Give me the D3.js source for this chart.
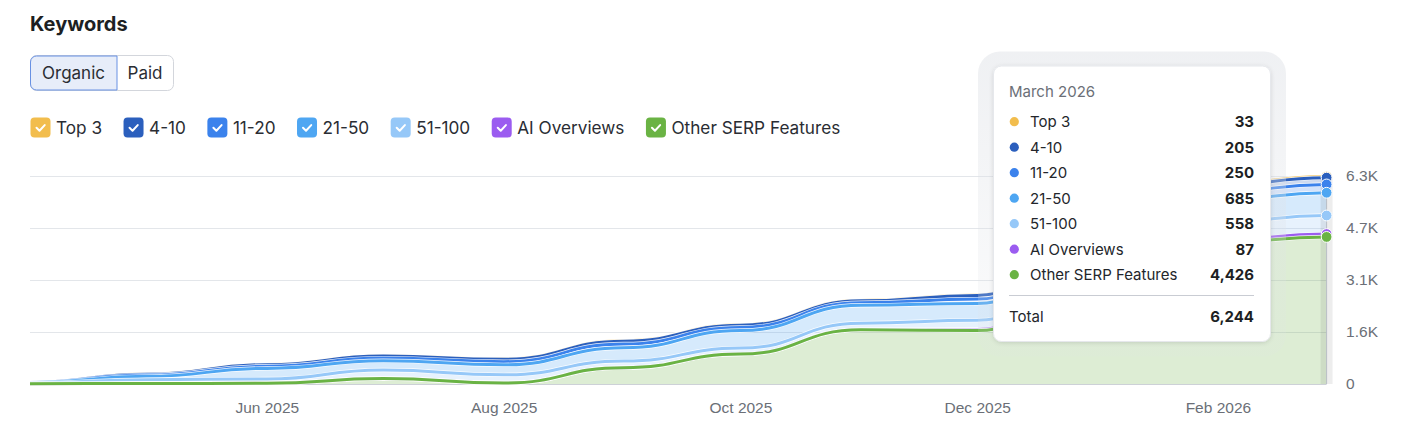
<!DOCTYPE html>
<html>
<head>
<meta charset="utf-8">
<script src="https://cdn.jsdelivr.net/npm/d3@7"></script>
<style>
  body { margin: 0; background: #fff; }
  svg { display: block; font-family: Inter, "Noto Sans", sans-serif; }
</style>
</head>
<body>
<svg id="kw-chart" width="1412" height="442"></svg>
<script>
// monthly points (Jan 2026 sits under the tooltip, estimated)
var dates = ["2025-04-01", "2025-05-01", "2025-06-01", "2025-07-01", "2025-08-01", "2025-09-01",
  "2025-10-01", "2025-11-01", "2025-12-01", "2026-01-01", "2026-02-01", "2026-03-01"];

var seriesNames = ["Top 3", "4-10", "11-20", "21-50", "51-100", "AI Overviews", "Other SERP Features"];
var seriesColors = ["#f2bd4d", "#2b5fbd", "#3b82ec", "#4ea6f2", "#96c8f8", "#9b5cf0", "#6ab344"];

var top3        = [0, 4, 6, 7, 9, 11, 9, 10, 15, 20, 30, 33];
var pos4to10    = [2, 28, 47, 58, 70, 84, 68, 55, 110, 150, 200, 205];
var pos11to20   = [3, 38, 64, 80, 95, 115, 93, 78, 130, 180, 240, 250];
var pos21to50   = [10, 100, 320, 280, 300, 400, 530, 540, 505, 600, 670, 685];
var pos51to100  = [20, 115, 128, 256, 247, 200, 180, 194, 280, 380, 540, 558];
var aiOverviews = [0, 0, 0, 0, 0, 0, 0, 5, 30, 55, 80, 87];
var otherSerp   = [10, 15, 22, 165, 30, 490, 900, 1631, 1610, 2900, 4254, 4426];

var xTickDates = ["2025-06-01", "2025-08-01", "2025-10-01", "2025-12-01", "2026-02-01"];
var yTickValues = [0, 1565, 3130, 4695, 6260];
var yTickLabels = ["0", "1.6K", "3.1K", "4.7K", "6.3K"];

var tooltipTitle = "March 2026";

(function() {
  var parse = d3.timeParse("%Y-%m-%d");
  var seriesValues = [top3, pos4to10, pos11to20, pos21to50, pos51to100, aiOverviews, otherSerp];

  var rows = dates.map(function(d, i) {
    var r = { date: parse(d) };
    seriesNames.forEach(function(n, k) { r[n] = seriesValues[k][i]; });
    return r;
  });

  var svg = d3.select("#kw-chart"),
      plotLeft = 30, plotRight = 1326.6, plotTop = 176, plotBottom = 384;

  var x = d3.scaleTime()
      .domain([parse(dates[0]), parse(dates[dates.length - 1])])
      .range([plotLeft, plotRight]);
  var y = d3.scaleLinear().domain([0, 6260]).range([plotBottom, plotTop]);
  var color = d3.scaleOrdinal().domain(seriesNames).range(seriesColors);

  // title + Organic/Paid toggle
  svg.append("text").attr("x", 30).attr("y", 31)
    .attr("font-size", 20).attr("font-weight", 700).attr("fill", "#1d1f23")
    .text("Keywords");

  svg.append("rect").attr("x", 30.5).attr("y", 55.5).attr("width", 143).attr("height", 35)
    .attr("rx", 6).attr("fill", "#fff").attr("stroke", "#d3d6dc");
  svg.append("path")
    .attr("d", "M117,56 H36.5 A6,6 0 0 0 30.5,62 V84 A6,6 0 0 0 36.5,90 H117 Z")
    .attr("fill", "#e7edf9").attr("stroke", "#6891e3");
  svg.append("text").attr("x", 73.5).attr("y", 79).attr("text-anchor", "middle")
    .attr("font-size", 17).attr("fill", "#2a2d33").text("Organic");
  svg.append("text").attr("x", 145).attr("y", 79).attr("text-anchor", "middle")
    .attr("font-size", 17).attr("fill", "#2a2d33").text("Paid");

  // legend
  var lx = 30.5;
  seriesNames.forEach(function(n) {
    var g = svg.append("g").attr("transform", "translate(" + lx + ",117.5)");
    g.append("rect").attr("width", 20).attr("height", 20).attr("rx", 4).attr("fill", color(n));
    g.append("path").attr("d", "M6,10.3 L9,13.2 L14.2,7.6")
      .attr("fill", "none").attr("stroke", "#fff").attr("stroke-width", 2)
      .attr("stroke-linecap", "round").attr("stroke-linejoin", "round");
    var t = g.append("text").attr("x", 25.5).attr("y", 16.5)
      .attr("font-size", 17.2).attr("fill", "#2a2d33").text(n);
    lx += 25.5 + t.node().getComputedTextLength() + 21.5;
  });

  // gridlines
  svg.append("g").selectAll("line")
    .data(yTickValues.slice(1))
    .enter().append("line")
    .attr("x1", plotLeft).attr("x2", plotRight)
    .attr("y1", function(d) { return Math.round(y(d)) + 0.5; })
    .attr("y2", function(d) { return Math.round(y(d)) + 0.5; })
    .attr("stroke", "#e3e6ea");

  // stacked areas, bottom layer first
  var stacked = d3.stack().keys(seriesNames.slice().reverse())(rows);

  var area = d3.area()
      .x(function(d) { return x(d.data.date); })
      .y0(function(d) { return y(d[0]); })
      .y1(function(d) { return y(d[1]); })
      .curve(d3.curveBumpX);
  var line = d3.line()
      .x(function(d) { return x(d.data.date); })
      .y(function(d) { return y(d[1]); })
      .curve(d3.curveBumpX);

  svg.append("g").selectAll("path")
    .data(stacked).enter().append("path")
    .attr("d", area)
    .attr("fill", function(s) { return color(s.key); })
    .attr("fill-opacity", 0.23);

  svg.append("line").attr("x1", plotLeft).attr("x2", plotRight)
    .attr("y1", plotBottom + 0.5).attr("y2", plotBottom + 0.5).attr("stroke", "#cdd1d7");

  // lines: top series first so lower ones sit on top
  var lines = svg.append("g");
  stacked.slice().reverse().forEach(function(s) {
    lines.append("path").attr("d", line(s))
      .attr("fill", "none").attr("stroke", "#fff").attr("stroke-width", 4.3).attr("stroke-opacity", 0.9);
    lines.append("path").attr("d", line(s))
      .attr("fill", "none").attr("stroke", color(s.key)).attr("stroke-width", 3);
  });

  // axes
  var yAxis = d3.axisRight(y).tickValues(yTickValues).tickSize(0).tickPadding(19.5)
      .tickFormat(function(d, i) { return yTickLabels[i]; });
  var gy = svg.append("g").attr("transform", "translate(" + plotRight + ",0)").call(yAxis);
  gy.select(".domain").remove();
  gy.selectAll("text").attr("font-size", 15.5).attr("fill", "#6b6f77").attr("font-family", null);

  var xAxis = d3.axisBottom(x).tickValues(xTickDates.map(parse)).tickSize(0).tickPadding(17.5)
      .tickFormat(d3.timeFormat("%b %Y"));
  var gx = svg.append("g").attr("transform", "translate(0," + plotBottom + ")").call(xAxis);
  gx.select(".domain").remove();
  gx.selectAll("text").attr("font-size", 15.5).attr("fill", "#6b6f77").attr("font-family", null);

  // hover marker at the last month
  var last = rows.length - 1, hx = x(rows[last].date);
  svg.append("rect").attr("x", hx - 6).attr("y", plotTop).attr("width", 12).attr("height", plotBottom - plotTop)
    .attr("fill", "#000").attr("fill-opacity", 0.07);
  svg.append("line").attr("x1", hx).attr("x2", hx).attr("y1", plotTop).attr("y2", plotBottom)
    .attr("stroke", "#b9bec6").attr("stroke-width", 1);

  svg.append("g").selectAll("circle")
    .data(stacked.slice().reverse())
    .enter().append("circle")
    .attr("cx", hx)
    .attr("cy", function(s) { return y(s[last][1]); })
    .attr("r", 5.4)
    .attr("fill", function(s) { return color(s.key); })
    .attr("stroke", "#fff").attr("stroke-width", 1);

  // tooltip
  var defs = svg.append("defs");
  var grad = defs.append("linearGradient").attr("id", "halo")
    .attr("x1", 0).attr("x2", 0).attr("y1", 0).attr("y2", 1);
  grad.append("stop").attr("offset", "0%").attr("stop-color", "#dfe2e7").attr("stop-opacity", 0.5);
  grad.append("stop").attr("offset", "100%").attr("stop-color", "#dfe2e7").attr("stop-opacity", 0.12);
  var shadow = defs.append("filter").attr("id", "tipShadow").attr("x", "-10%").attr("y", "-10%")
    .attr("width", "120%").attr("height", "120%");
  shadow.append("feDropShadow").attr("dx", 0).attr("dy", 1).attr("stdDeviation", 2)
    .attr("flood-color", "#000").attr("flood-opacity", 0.12);

  var tip = svg.append("g");
  tip.append("rect").attr("x", 978).attr("y", 51.5).attr("width", 308).attr("height", 305)
    .attr("rx", 22).attr("fill", "url(#halo)");
  tip.append("rect").attr("x", 993.5).attr("y", 66).attr("width", 277).attr("height", 275.5)
    .attr("rx", 8).attr("fill", "#fff").attr("stroke", "#e6e8ec").attr("filter", "url(#tipShadow)");
  tip.append("text").attr("x", 1009).attr("y", 97).attr("font-size", 15).attr("fill", "#6b6f77")
    .text(tooltipTitle);

  var fmt = d3.format(",");
  var total = 0;
  seriesNames.forEach(function(n, i) {
    var cy = 121.7 + i * 25.5;
    var v = rows[last][n];
    total += v;
    tip.append("circle").attr("cx", 1014.3).attr("cy", cy).attr("r", 4.6).attr("fill", color(n));
    tip.append("text").attr("x", 1030).attr("y", cy + 5.3).attr("font-size", 15).attr("fill", "#23262b").text(n);
    tip.append("text").attr("x", 1254).attr("y", cy + 5.3).attr("text-anchor", "end")
      .attr("font-size", 15).attr("font-weight", 700).attr("fill", "#1d1f23").text(fmt(v));
  });
  tip.append("line").attr("x1", 1009).attr("x2", 1254).attr("y1", 295.5).attr("y2", 295.5)
    .attr("stroke", "#c9ccd3");
  tip.append("text").attr("x", 1009).attr("y", 322).attr("font-size", 15).attr("fill", "#23262b").text("Total");
  tip.append("text").attr("x", 1254).attr("y", 322).attr("text-anchor", "end")
    .attr("font-size", 15).attr("font-weight", 700).attr("fill", "#1d1f23").text(fmt(total));
})();
</script>
</body>
</html>
